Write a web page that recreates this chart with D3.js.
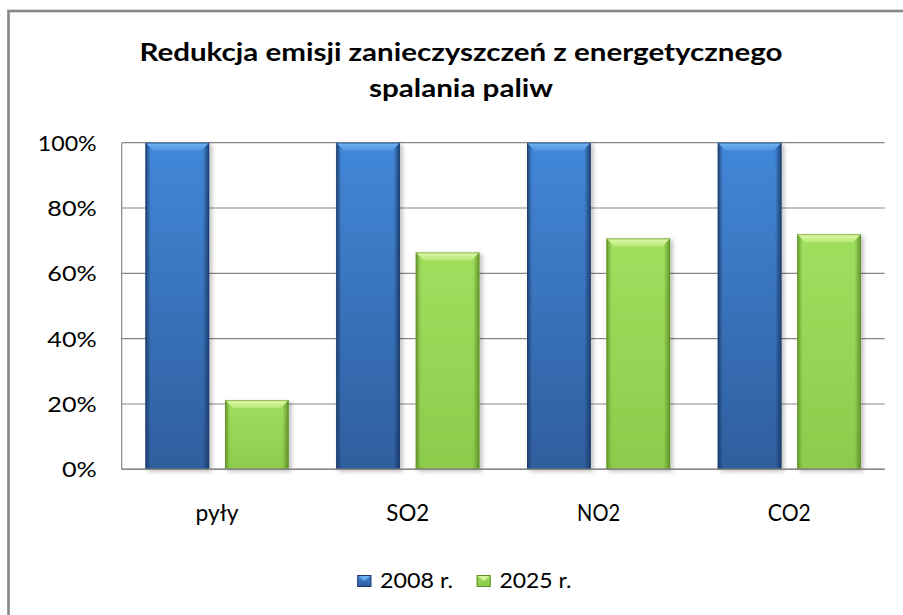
<!DOCTYPE html>
<html><head><meta charset="utf-8">
<script src="https://cdn.jsdelivr.net/npm/d3@7"></script>
<style>
html,body{margin:0;padding:0;background:#fff;}
svg{display:block;}
text{font-family:Lato,"Open Sans",sans-serif;fill:#000;}
</style></head>
<body>
<svg id="chart" width="903" height="615"></svg>
<script>
const categories = ["pyły", "SO2", "NO2", "CO2"];
const seriesNames = ["2008 r.", "2025 r."];
const values2008 = [1.0, 1.0, 1.0, 1.0];
const values2025 = [0.212, 0.664, 0.707, 0.72];
const yTicks = [0, 0.2, 0.4, 0.6, 0.8, 1.0];
const titleLines = ["Redukcja emisji zanieczyszczeń z energetycznego", "spalania paliw"];

const svg = d3.select("#chart");
const W = 903, H = 615;
const plot = {left: 121.7, right: 884.7, top: 142.7, bottom: 469.3};

const defs = svg.append("defs");
const styles = [
  {name: "blue", top: "#4287d8", bottom: "#2f5e9e", edge: "#1c3b69", bevel: "#74b6f4", bevelEnd: "#4d92e0"},
  {name: "green", top: "#a0df5e", bottom: "#8ccb4b", edge: "#5f8f2a", bevel: "#e2faa9", bevelEnd: "#b4e876"}
];
styles.forEach(s => {
  const g = defs.append("linearGradient").attr("id", "v-" + s.name).attr("x1", 0).attr("y1", 0).attr("x2", 0).attr("y2", 1);
  g.append("stop").attr("offset", "0%").attr("stop-color", s.top);
  g.append("stop").attr("offset", "100%").attr("stop-color", s.bottom);
  const h = defs.append("linearGradient").attr("id", "h-" + s.name).attr("x1", 0).attr("y1", 0).attr("x2", 1).attr("y2", 0);
  h.append("stop").attr("offset", "0%").attr("stop-color", s.edge).attr("stop-opacity", 0.9);
  h.append("stop").attr("offset", "8%").attr("stop-color", s.edge).attr("stop-opacity", 0.0);
  h.append("stop").attr("offset", "90%").attr("stop-color", s.edge).attr("stop-opacity", 0.0);
  h.append("stop").attr("offset", "100%").attr("stop-color", s.edge).attr("stop-opacity", 0.95);
  const b = defs.append("linearGradient").attr("id", "b-" + s.name).attr("x1", 0).attr("y1", 0).attr("x2", 0).attr("y2", 1);
  b.append("stop").attr("offset", "0%").attr("stop-color", s.bevel);
  b.append("stop").attr("offset", "100%").attr("stop-color", s.bevelEnd);
});
const f = defs.append("filter").attr("id", "shadow").attr("x", "-10%").attr("y", "-10%").attr("width", "130%").attr("height", "130%");
f.append("feDropShadow").attr("dx", 2.5).attr("dy", 2).attr("stdDeviation", 2).attr("flood-color", "#000").attr("flood-opacity", 0.25);

// outer border (cropped chart area)
svg.append("rect").attr("x", 8.5).attr("y", 11).attr("width", W + 20).attr("height", H + 20)
  .attr("fill", "#fff").attr("stroke", "#888").attr("stroke-width", 2.6);

// title
const titleY = [61, 97];
const titleLen = [643, 184];
titleLines.forEach((t, i) => {
  svg.append("text").attr("x", 461).attr("y", titleY[i]).attr("text-anchor", "middle")
    .attr("font-size", 25.5).attr("font-weight", 700)
    .attr("textLength", titleLen[i]).attr("lengthAdjust", "spacingAndGlyphs").text(t);
});

const y = d3.scaleLinear().domain([0, 1]).range([plot.bottom, plot.top]);
const x0 = d3.scaleBand().domain(categories).range([plot.left, plot.right]).padding(0);
const x1 = d3.scaleBand().domain(seriesNames).range([0, x0.bandwidth()]).paddingInner(0.2).paddingOuter(0.3);

// gridlines
svg.append("g").selectAll("line").data(yTicks).join("line")
  .attr("x1", plot.left).attr("x2", plot.right)
  .attr("y1", d => y(d)).attr("y2", d => y(d))
  .attr("stroke", "#878787").attr("stroke-width", 1.2);
svg.append("line").attr("x1", plot.left).attr("x2", plot.left).attr("y1", plot.top).attr("y2", plot.bottom)
  .attr("stroke", "#878787").attr("stroke-width", 1.2);

// y axis labels
const yAxis = svg.append("g").attr("transform", `translate(${plot.left},0)`)
  .call(d3.axisLeft(y).tickValues(yTicks).tickFormat(d3.format(".0%")).tickSize(0).tickPadding(25));
yAxis.select(".domain").remove();
yAxis.selectAll("text").attr("font-size", 21).attr("font-family", "Lato").attr("fill", "#111").attr("dy", "0.36em")
  .each(function(d) {
    const w = this.getComputedTextLength();
    const len = d >= 1 ? Math.min(w * 1.2, 59) : w * 1.2;
    d3.select(this).attr("textLength", len).attr("lengthAdjust", "spacingAndGlyphs");
  });

// bars
const rows = categories.map((c, i) => ({cat: c, vals: [values2008[i], values2025[i]]}));
function drawBar(g, bx, by, bw, bh, s) {
  const grp = g.append("g").attr("filter", "url(#shadow)");
  grp.append("rect").attr("x", bx).attr("y", by).attr("width", bw).attr("height", bh).attr("fill", `url(#v-${s.name})`);
  grp.append("rect").attr("x", bx).attr("y", by).attr("width", bw).attr("height", bh).attr("fill", `url(#h-${s.name})`);
  const bev = Math.min(8, bh);
  grp.append("path").attr("d", `M${bx},${by} L${bx + bw},${by} L${bx + bw - bev},${by + bev} L${bx + bev},${by + bev} Z`)
    .attr("fill", `url(#b-${s.name})`);
  grp.append("rect").attr("x", bx + 0.5).attr("y", by + 0.5).attr("width", bw - 1).attr("height", bh - 1)
    .attr("fill", "none").attr("stroke", s.edge).attr("stroke-opacity", 0.6).attr("stroke-width", 1);
}
const barsG = svg.append("g");
rows.forEach(r => {
  r.vals.forEach((v, j) => {
    const bx = x0(r.cat) + x1(seriesNames[j]);
    drawBar(barsG, bx, y(v), x1.bandwidth(), y(0) - y(v), styles[j]);
  });
});
// baseline axis
svg.append("line").attr("x1", plot.left).attr("x2", plot.right).attr("y1", plot.bottom).attr("y2", plot.bottom)
  .attr("stroke", "#878787").attr("stroke-width", 1.5);

// category labels
const xAxis = svg.append("g").attr("transform", `translate(0,${plot.bottom})`)
  .call(d3.axisBottom(x0).tickSize(0).tickPadding(0));
xAxis.select(".domain").remove();
xAxis.selectAll("text").attr("font-size", 23).attr("font-family", "Lato").attr("fill", "#111")
  .attr("y", 52).attr("dy", 0)
  .attr("textLength", 43).attr("lengthAdjust", "spacingAndGlyphs");

// legend
const legendX = [357.3, 476.7];
const legendTextLen = [73, 72];
seriesNames.forEach((n, i) => {
  const s = styles[i];
  const lx = legendX[i], ly = 575, lw = 14, lh = 12;
  svg.append("rect").attr("x", lx).attr("y", ly).attr("width", lw).attr("height", lh).attr("fill", `url(#v-${s.name})`);
  svg.append("path").attr("d", `M${lx},${ly} L${lx + lw},${ly} L${lx + lw / 2},${ly + lh / 2} Z`).attr("fill", s.bevel).attr("opacity", 0.8);
  svg.append("path").attr("d", `M${lx},${ly + lh} L${lx + lw},${ly + lh} L${lx + lw / 2},${ly + lh / 2} Z`).attr("fill", s.bottom).attr("opacity", 0.6);
  svg.append("rect").attr("x", lx + 0.5).attr("y", ly + 0.5).attr("width", lw - 1).attr("height", lh - 1)
    .attr("fill", "none").attr("stroke", s.edge).attr("stroke-width", 1);
  svg.append("text").attr("x", lx + 22.7).attr("y", 587.5).attr("font-size", 22).attr("fill", "#111")
    .attr("textLength", legendTextLen[i]).attr("lengthAdjust", "spacingAndGlyphs").text(n);
});
</script>
</body></html>
